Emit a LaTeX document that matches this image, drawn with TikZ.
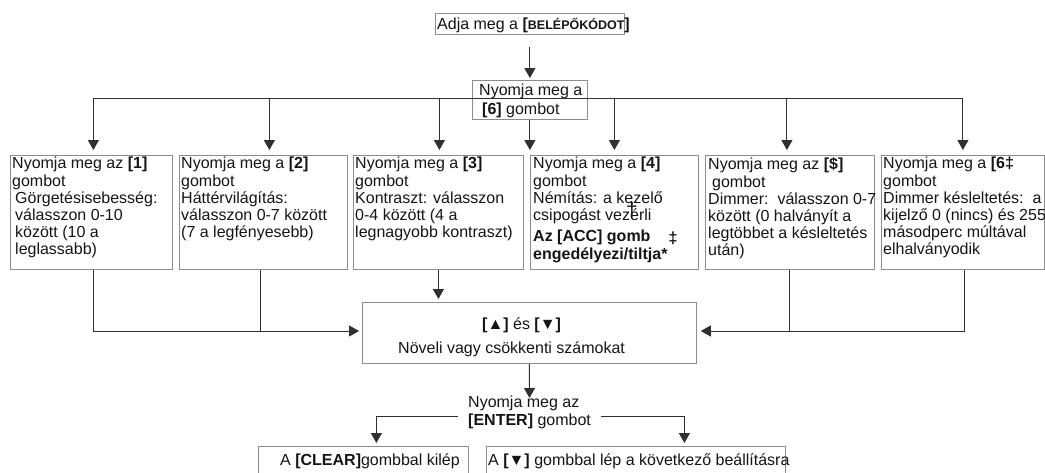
\documentclass[tikz,border=0pt]{standalone}
\usepackage{fontspec}
\setmainfont{Liberation Sans}
\usetikzlibrary{arrows.meta}
\definecolor{boxgray}{HTML}{8C8C8C}
\definecolor{linegray}{HTML}{303030}
\definecolor{ink}{HTML}{151515}
\begin{document}
\begin{tikzpicture}[x=1pt,y=-1pt,
  box/.style={draw=boxgray, line width=0.8pt, fill=white, inner sep=0pt, anchor=north west},
  txt/.style={inner sep=0pt, anchor=north west, align=left, text=ink,
              font=\fontsize{16}{17}\selectfont},
  conn/.style={draw=linegray, line width=1pt},
  arr/.style={conn, -{Triangle[length=10pt,width=11pt]}}]
\clip (0,0) rectangle (1045,472);

% entry code and the [6] key
\node[box, minimum width=189pt, minimum height=21pt] (code) at (435,13) {};
\node[txt, anchor=base west] (codet) at (437,29.5)
  {Adja meg a \textbf{[}{\fontsize{12.5}{12}\selectfont\bfseries BELÉPŐKÓDOT}\textbf{]}};
\node[box, minimum width=115pt, minimum height=39pt] (key6) at (472,80) {};
\node[txt] (key6t) at (479,83.5) {Nyomja meg a\\[2pt]\hspace*{3pt}\textbf{[6]} gombot};

% option boxes
\node[box, minimum width=162pt, minimum height=114pt] (b1) at (10,155) {};
\node[box, minimum width=168pt, minimum height=114pt] (b2) at (179,155) {};
\node[box, minimum width=170pt, minimum height=114pt] (b3) at (353,155) {};
\node[box, minimum width=168pt, minimum height=114pt] (b4) at (530,155) {};
\node[box, minimum width=169pt, minimum height=114pt] (b5) at (705,155) {};
\node[box, minimum width=163pt, minimum height=114pt] (b6) at (881,155) {};

\node[txt] (t1) at (12,157) {Nyomja meg az \textbf{[1]}\\[1pt]
  gombot\\
  \hspace*{3pt}Görgetésisebesség:\\
  \hspace*{3pt}válasszon 0-10\\
  \hspace*{3pt}között (10 a\\
  \hspace*{3pt}leglassabb)};
\node[txt] (t2) at (181,157) {Nyomja meg a \textbf{[2]}\\[1pt]
  gombot\\
  Háttérvilágítás:\\
  válasszon 0-7 között\\
  (7 a legfényesebb)};
\node[txt] (t3) at (355,157) {Nyomja meg a \textbf{[3]}\\[1pt]
  gombot\\
  Kontraszt: válasszon\\
  0-4 között (4 a\\
  legnagyobb kontraszt)};
\node[txt] (t4) at (533,157) {Nyomja meg a \textbf{[4]}\\[1pt]
  gombot\\
  Némítás: a kezelő\\
  csipogást vezérli\\[4pt]
  \textbf{Az [ACC] gomb}\\[1pt]
  \textbf{engedélyezi/tiltja*}};
\node[txt, anchor=center, font=\fontsize{21}{21}\selectfont] (dag4) at (632,211) {†};
\node[txt, anchor=center] (ddag4) at (673,238) {\textbf{‡}};
\node[txt] (t5) at (708,157) {Nyomja meg az \textbf{[\$]}\\[1pt]
  \hspace*{4pt}gombot\\
  Dimmer:\ \ válasszon 0-7\\
  között (0 halványít a\\
  legtöbbet a késleltetés\\
  után)};
\node[txt] (t6) at (883,157) {Nyomja meg a \textbf{[6‡}\\[1pt]
  gombot\\
  Dimmer késleltetés:\ \ a\\
  kijelző 0 (nincs) és 255\\
  másodperc múltával\\
  elhalványodik};

% adjustment box
\node[box, minimum width=334pt, minimum height=61pt] (mid) at (362,302) {};
\node[txt, anchor=base west] (midt1) at (482,329) {\textbf{[▲]} és \textbf{[▼]}};
\node[txt, anchor=base west] (midt2) at (398,353) {Növeli vagy csökkenti számokat};

% ENTER step and its two outcomes
\node[txt, inner xsep=10pt] (enter) at (458,396) {Nyomja meg az\\[1pt]\textbf{[ENTER]} gombot};
\node[box, minimum width=210pt, minimum height=40pt] (clr) at (258,446) {};
\node[box, minimum width=299pt, minimum height=40pt] (nxt) at (486,446) {};
\node[txt] (clrt) at (280,453.5) {A \textbf{[CLEAR]}gombbal kilép};
\node[txt] (nxtt) at (488,453.5) {A \textbf{[▼]} gombbal lép a következő beállításra};

% connectors
\coordinate (bus) at (0,98);
\coordinate (merge) at (0,331);
\coordinate (eline) at (0,416);
\coordinate (etip) at (529.5,398);

\draw[arr, shorten <=12pt, shorten >=2pt] (code.south) -- (key6.north);
\draw[conn] ([xshift=2pt]b1.north |- bus) -- ([xshift=0pt]b6.north |- bus);
\draw[arr, shorten >=5pt] ([xshift=2pt]b1.north |- bus) -- ([xshift=2pt]b1.north);
\draw[arr, shorten >=5pt] ([xshift=6pt]b2.north |- bus) -- ([xshift=6pt]b2.north);
\draw[arr, shorten >=5pt] ([xshift=1pt]b3.north |- bus) -- ([xshift=1pt]b3.north);
\draw[arr, shorten >=5pt] (key6.south) -- (key6.south |- b4.north);
\draw[arr, shorten >=5pt] ([xshift=0pt]b4.north |- bus) -- ([xshift=0pt]b4.north);
\draw[arr, shorten >=5pt] ([xshift=-3pt]b5.north |- bus) -- ([xshift=-3pt]b5.north);
\draw[arr, shorten >=5pt] ([xshift=0pt]b6.north |- bus) -- ([xshift=0pt]b6.north);

\draw[arr, shorten >=3pt] ([xshift=2pt]b1.south) |- (mid.west |- merge);
\draw[conn] ([xshift=-3pt]b2.south) -- ([xshift=-3pt]b2.south |- merge);
\draw[arr, shorten >=3pt] (b3.south) -- (b3.south |- mid.north);
\draw[arr, shorten >=4pt] ([xshift=1.5pt]b6.south) |- (mid.east |- merge);
\draw[conn] (b5.south) -- (b5.south |- merge);

\draw[arr] (mid.south) -- (etip);
\draw[arr, shorten >=3pt] (enter.west |- eline) -| ([xshift=13pt]clr.north);
\draw[arr, shorten >=3pt] (enter.east |- eline) -| ([xshift=48.5pt]nxt.north);
\end{tikzpicture}
\end{document}
